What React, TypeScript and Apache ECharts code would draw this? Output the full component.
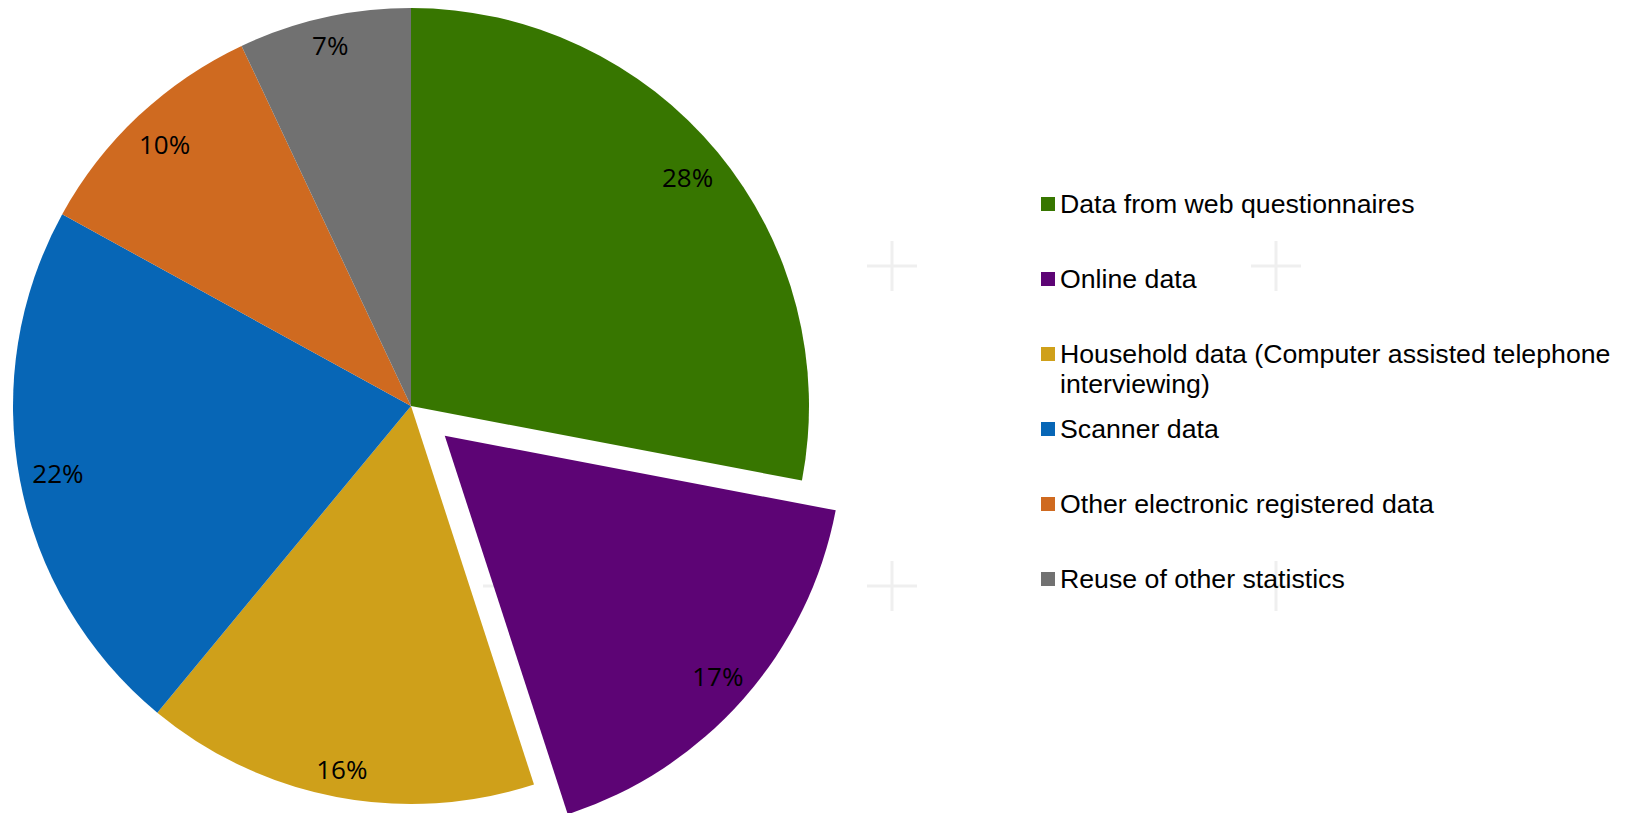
import React, { useEffect, useRef } from "react";
import * as echarts from "echarts";

const categories = [
  "Data from web questionnaires",
  "Online data",
  "Household data (Computer assisted telephone interviewing)",
  "Scanner data",
  "Other electronic registered data",
  "Reuse of other statistics",
];
const values = [28, 17, 16, 22, 10, 7];
const colors = ["#377600", "#5d0475", "#cfa01a", "#0766b6", "#cf6a20", "#717171"];
const explodedIndex = 1;

// legend label text (with wrapping as in the reference)
const legendLabels = [
  "Data from web questionnaires",
  "Online data",
  "Household data (Computer assisted telephone\ninterviewing)",
  "Scanner data",
  "Other electronic registered data",
  "Reuse of other statistics",
];
const legendCenters = [204, 279, 354, 429, 504, 579];

// faint background crosses
const crossXs = [508, 892, 1276];
const crossYs = [266, 586];

export default function App() {
  const ref = useRef<HTMLDivElement>(null);
  useEffect(() => {
    if (!ref.current) return;
    const chart = echarts.init(ref.current, undefined, { renderer: "svg" });
    const cx = 411;
    const cy = 406;
    const R = 398;
    const R0 = 324;
    const INSIDE_R = (R + R0) / 2;
    const MARGIN = 14;
    const LINE = 30;

    const pieData = categories.map((name, i) => ({
      name,
      value: values[i],
      selected: i === explodedIndex,
      itemStyle: { color: colors[i] },
    }));
    const labelData = categories.map((name, i) => ({
      name,
      value: values[i],
      selected: i === explodedIndex,
    }));

    const legends = categories.map((name, i) => {
      const twoLine = legendLabels[i].includes("\n");
      const top = twoLine ? legendCenters[i] - LINE * 1.5 : legendCenters[i] - LINE / 2;
      const text = twoLine ? "\n" + legendLabels[i] : legendLabels[i];
      return {
        show: true,
        orient: "vertical",
        left: 1041,
        top,
        padding: 0,
        itemWidth: 14,
        itemHeight: 14,
        icon: "rect",
        selectedMode: false,
        data: [name],
        formatter: () => text,
        textStyle: {
          fontFamily: "'Liberation Sans', Arial, sans-serif",
          fontSize: 26.7,
          lineHeight: LINE,
          color: "#000",
        },
      };
    });

    const graphics: any[] = [];
    crossXs.forEach((x) =>
      crossYs.forEach((y) => {
        graphics.push({
          type: "line",
          z: 0,
          shape: { x1: x - 25, y1: y, x2: x + 25, y2: y },
          style: { stroke: "#efefef", lineWidth: 3 },
          silent: true,
        });
        graphics.push({
          type: "line",
          z: 0,
          shape: { x1: x, y1: y - 25, x2: x, y2: y + 25 },
          style: { stroke: "#efefef", lineWidth: 3 },
          silent: true,
        });
      })
    );

    chart.setOption({
      animation: false,
      backgroundColor: "#ffffff",
      graphic: graphics,
      legend: legends,
      series: [
        {
          type: "pie",
          name: "main",
          center: [cx, cy],
          radius: [0, R],
          startAngle: 90,
          clockwise: true,
          selectedMode: "single",
          selectedOffset: 45,
          silent: true,
          z: 2,
          label: { show: false },
          labelLine: { show: false },
          itemStyle: { borderWidth: 0 },
          emphasis: { disabled: true },
          data: pieData,
        },
        {
          type: "pie",
          name: "labels",
          center: [cx, cy],
          radius: [R0, R],
          startAngle: 90,
          clockwise: true,
          selectedMode: "single",
          selectedOffset: 45,
          silent: true,
          z: 3,
          avoidLabelOverlap: false,
          itemStyle: { color: "rgba(0,0,0,0)", borderWidth: 0 },
          emphasis: { disabled: true },
          label: {
            show: true,
            position: "inside",
            formatter: "{d}%",
            fontFamily: "'Open Sans', sans-serif",
            fontSize: 26,
            color: "#000",
          },
          labelLine: { show: false },
          // place labels "inside end": keep the text box just inside the arc
          labelLayout: (params: any) => {
            const r = params.labelRect;
            const lx = r.x + r.width / 2;
            const ly = r.y + r.height / 2;
            const dx = lx - cx;
            const dy = ly - cy;
            const d = Math.hypot(dx, dy) || 1;
            const ux = dx / d;
            const uy = dy / d;
            const ext = Math.abs(ux) * (r.width / 2) + Math.abs(uy) * (r.height / 2);
            const target = R - MARGIN - ext;
            const nd = d - INSIDE_R + target;
            return {
              x: cx + ux * nd,
              y: cy + uy * nd,
              align: "center",
              verticalAlign: "middle",
            };
          },
          percentPrecision: 0,
          data: labelData,
        },
      ],
    });
    return () => chart.dispose();
  }, []);
  return (
    <div
      ref={ref}
      style={{ position: "fixed", left: 0, top: 0, width: 1628, height: 813, background: "#fff" }}
    />
  );
}
